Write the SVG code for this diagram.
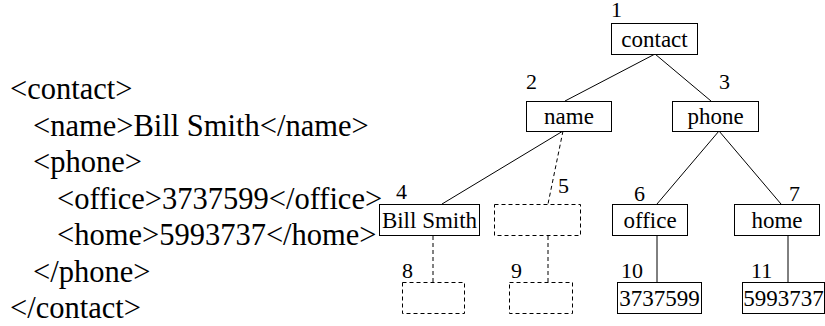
<svg xmlns="http://www.w3.org/2000/svg" width="825" height="326" viewBox="0 0 825 326">
<style>
.box{fill:#fff;stroke:#000;stroke-width:1}
.dbox{fill:none;stroke:#000;stroke-width:1;stroke-dasharray:4 3}
.dl{stroke-dasharray:4 3}
text{font-family:'Liberation Serif',serif !important;fill:#000}
.xml{font-size:30.5px}
.lbl{font-size:23px;text-anchor:middle}
.num{font-size:22px}
</style>
<rect x="0" y="0" width="825" height="326" fill="#fff"/>
<g id="xml-source">
<text class="xml" style="font-family:'Liberation Serif',serif !important" x="10" y="99">&lt;contact&gt;</text>
<text class="xml" style="font-family:'Liberation Serif',serif !important" x="33" y="136">&lt;name&gt;Bill Smith&lt;/name&gt;</text>
<text class="xml" style="font-family:'Liberation Serif',serif !important" x="33" y="172">&lt;phone&gt;</text>
<text class="xml" style="font-family:'Liberation Serif',serif !important" x="57" y="209">&lt;office&gt;3737599&lt;/office&gt;</text>
<text class="xml" style="font-family:'Liberation Serif',serif !important" x="57" y="245">&lt;home&gt;5993737&lt;/home&gt;</text>
<text class="xml" style="font-family:'Liberation Serif',serif !important" x="33" y="282">&lt;/phone&gt;</text>
<text class="xml" style="font-family:'Liberation Serif',serif !important" x="10" y="318">&lt;/contact&gt;</text>
</g>
<g id="connectors" stroke="#000" stroke-width="1" fill="none">
<line x1="655" y1="54" x2="565" y2="101"/>
<line x1="655" y1="54" x2="711" y2="101"/>
<line x1="563" y1="131" x2="442" y2="204"/>
<line class="dl" x1="563" y1="131" x2="548" y2="204"/>
<line x1="719" y1="131" x2="657" y2="204"/>
<line x1="719" y1="131" x2="781" y2="204"/>
<line class="dl" x1="433" y1="236" x2="433" y2="282"/>
<line class="dl" x1="548" y1="236" x2="548" y2="282"/>
<line x1="657" y1="236" x2="657" y2="282"/>
<line x1="788" y1="236" x2="788" y2="282"/>
</g>
<g id="node1">
<rect class="box" x="611.5" y="23.5" width="86" height="31"/>
<text class="lbl" style="font-family:'Liberation Serif',serif !important" x="654.5" y="47">contact</text>
<text class="num" style="font-family:'Liberation Serif',serif !important" x="611" y="17">1</text>
</g>
<g id="node2">
<rect class="box" x="526.5" y="101.5" width="85" height="30"/>
<text class="lbl" style="font-family:'Liberation Serif',serif !important" x="569" y="124">name</text>
<text class="num" style="font-family:'Liberation Serif',serif !important" x="526" y="89">2</text>
</g>
<g id="node3">
<rect class="box" x="672.5" y="101.5" width="86" height="30"/>
<text class="lbl" style="font-family:'Liberation Serif',serif !important" x="715.5" y="124">phone</text>
<text class="num" style="font-family:'Liberation Serif',serif !important" x="719" y="89">3</text>
</g>
<g id="node4">
<rect class="box" x="379.5" y="204.5" width="100" height="31"/>
<text class="lbl" style="font-family:'Liberation Serif',serif !important" x="429.5" y="228">Bill Smith</text>
<text class="num" style="font-family:'Liberation Serif',serif !important" x="396" y="199">4</text>
</g>
<g id="node5">
<rect class="dbox" x="494.5" y="204.5" width="86" height="31"/>
<text class="num" style="font-family:'Liberation Serif',serif !important" x="558" y="193">5</text>
</g>
<g id="node6">
<rect class="box" x="612.5" y="204.5" width="75" height="31"/>
<text class="lbl" style="font-family:'Liberation Serif',serif !important" x="650" y="228">office</text>
<text class="num" style="font-family:'Liberation Serif',serif !important" x="634" y="201">6</text>
</g>
<g id="node7">
<rect class="box" x="734.5" y="204.5" width="85" height="31"/>
<text class="lbl" style="font-family:'Liberation Serif',serif !important" x="777" y="228">home</text>
<text class="num" style="font-family:'Liberation Serif',serif !important" x="789" y="201">7</text>
</g>
<g id="node8">
<rect class="dbox" x="402.5" y="282.5" width="62" height="31"/>
<text class="num" style="font-family:'Liberation Serif',serif !important" x="402" y="278">8</text>
</g>
<g id="node9">
<rect class="dbox" x="509.5" y="282.5" width="63" height="31"/>
<text class="num" style="font-family:'Liberation Serif',serif !important" x="511" y="278">9</text>
</g>
<g id="node10">
<rect class="box" x="617.5" y="282.5" width="84" height="31"/>
<text class="lbl" style="font-family:'Liberation Serif',serif !important" x="659.5" y="306">3737599</text>
<text class="num" style="font-family:'Liberation Serif',serif !important" x="621" y="278">10</text>
</g>
<g id="node11">
<rect class="box" x="742.5" y="282.5" width="82" height="31"/>
<text class="lbl" style="font-family:'Liberation Serif',serif !important" x="783.5" y="306">5993737</text>
<text class="num" style="font-family:'Liberation Serif',serif !important" x="751" y="278">11</text>
</g>
</svg>
